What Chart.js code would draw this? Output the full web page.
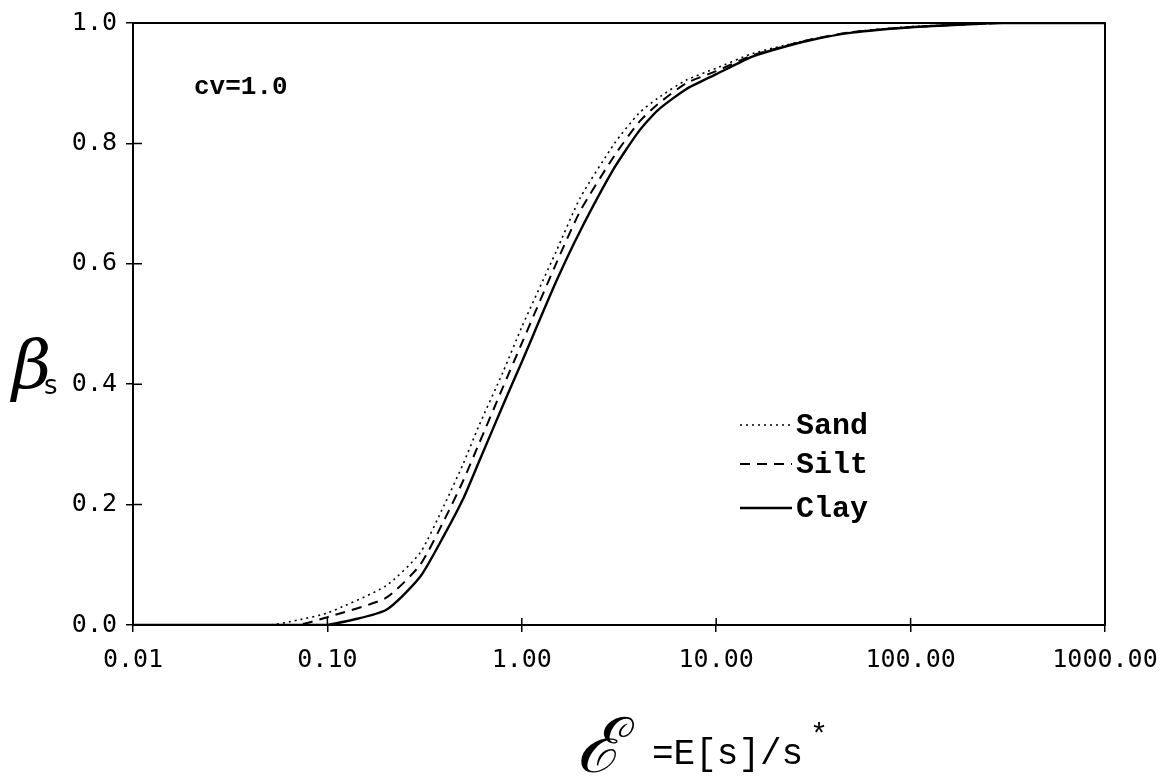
<!DOCTYPE html>
<html>
<head>
<meta charset="utf-8">
<script src="https://cdn.jsdelivr.net/npm/chart.js@4"></script>
<style>
  html, body { margin: 0; padding: 0; background: #fff; }
  #wrap { width: 1176px; height: 782px; }
</style>
</head>
<body>
<div id="wrap"><canvas id="betaChart" width="1176" height="782"></canvas></div>
<script>
// E[s]/s* values and the fraction beta_s for each soil type
const ratio = [0.01, 0.05, 0.07, 0.1, 0.2, 0.3, 0.4, 0.5, 0.6, 0.8, 1, 1.5, 2, 3, 4, 5, 7, 10, 15, 20, 30, 50, 100, 200, 300, 1000];
const sand  = [0, 0, 0.008, 0.02, 0.065, 0.12, 0.2, 0.268, 0.33, 0.42, 0.495, 0.62, 0.71, 0.80, 0.85, 0.875, 0.905, 0.925, 0.948, 0.959, 0.972, 0.985, 0.994, 0.998, 1, 1];
const silt  = [0, 0, 0, 0.013, 0.045, 0.10, 0.175, 0.24, 0.30, 0.395, 0.468, 0.60, 0.688, 0.78, 0.835, 0.865, 0.90, 0.92, 0.945, 0.957, 0.972, 0.985, 0.993, 0.998, 1, 1];
const clay  = [0, 0, 0, 0, 0.025, 0.08, 0.15, 0.21, 0.27, 0.365, 0.437, 0.57, 0.655, 0.76, 0.82, 0.855, 0.89, 0.915, 0.943, 0.956, 0.971, 0.984, 0.993, 0.998, 1, 1];
const xTicks = [0.01, 0.1, 1, 10, 100, 1000];
const xTickLabels = ["0.01", "0.10", "1.00", "10.00", "100.00", "1000.00"];
const yTicks = [0, 0.2, 0.4, 0.6, 0.8, 1.0];

const mono = '"Liberation Mono", monospace';
const numFont = '"DejaVu Sans Mono", monospace';
const serif = '"DejaVu Serif", serif';

function pts(ys) {
  return ratio.map((x, i) => ({ x: x, y: ys[i] }));
}

// frame, inner tick stubs, legend and axis titles
const decorations = {
  id: 'decorations',
  afterDraw(chart) {
    const ctx = chart.ctx;
    const a = chart.chartArea;
    const xs = chart.scales.x, ys = chart.scales.y;
    ctx.save();
    ctx.strokeStyle = '#000';
    ctx.lineWidth = 2;
    ctx.strokeRect(a.left, a.top, a.right - a.left, a.bottom - a.top);

    ctx.lineWidth = 1.5;
    ctx.beginPath();
    xTicks.forEach(v => {
      const px = xs.getPixelForValue(v);
      ctx.moveTo(px, a.bottom);
      ctx.lineTo(px, a.bottom - 7);
    });
    yTicks.forEach(v => {
      const py = ys.getPixelForValue(v);
      ctx.moveTo(a.left, py);
      ctx.lineTo(a.left + 9, py);
    });
    ctx.stroke();

    // legend inside the plot
    const lx = 740, lw = 52;
    const rows = [425, 464, 508];
    chart.data.datasets.forEach((ds, i) => {
      const y = rows[i];
      ctx.strokeStyle = '#000';
      ctx.lineWidth = ds.borderWidth;
      ctx.setLineDash(ds.borderDash || []);
      ctx.beginPath();
      ctx.moveTo(lx, y);
      ctx.lineTo(lx + lw, y);
      ctx.stroke();
      ctx.setLineDash([]);
      ctx.fillStyle = '#000';
      ctx.font = 'bold 30px ' + mono;
      ctx.textBaseline = 'middle';
      ctx.textAlign = 'left';
      ctx.fillText(ds.label, lx + lw + 4, y + 1);
    });

    // parameter note
    ctx.font = 'bold 26px ' + mono;
    ctx.fillText('cv=1.0', 194, 87);

    // y title: beta_s
    ctx.font = 'italic 68px ' + serif;
    ctx.textBaseline = 'alphabetic';
    ctx.fillText('\u03B2', 12, 388);
    ctx.font = '26px "DejaVu Sans", sans-serif';
    ctx.fillText('s', 44, 394);

    // x title
    ctx.font = 'italic 76px ' + serif;
    ctx.fillText('\u2130', 576, 772);
    ctx.font = '36px ' + mono;
    ctx.fillText('=E[s]/s', 652, 764);
    ctx.font = '30px ' + mono;
    ctx.fillText('*', 810, 744);
    ctx.restore();
  }
};

new Chart(document.getElementById('betaChart'), {
  type: 'line',
  data: {
    datasets: [
      { label: 'Sand', data: pts(sand), borderColor: '#000', borderWidth: 1.6, borderDash: [2, 4], pointRadius: 0, tension: 0.2, fill: false },
      { label: 'Silt', data: pts(silt), borderColor: '#000', borderWidth: 2, borderDash: [10, 7], pointRadius: 0, tension: 0.2, fill: false },
      { label: 'Clay', data: pts(clay), borderColor: '#000', borderWidth: 2.4, pointRadius: 0, tension: 0.2, fill: false }
    ]
  },
  options: {
    responsive: false,
    animation: false,
    layout: { padding: { left: 0, right: 71, top: 23, bottom: 0 } },
    plugins: {
      legend: { display: false },
      tooltip: { enabled: false }
    },
    scales: {
      x: {
        type: 'logarithmic',
        min: 0.01,
        max: 1000,
        afterBuildTicks: s => { s.ticks = xTicks.map(v => ({ value: v })); },
        afterFit: s => { s.height = 157; s.paddingLeft = 0; s.paddingRight = 0; },
        ticks: {
          autoSkip: false,
          maxRotation: 0,
          color: '#000',
          font: { family: numFont, size: 25 },
          padding: 13,
          callback: v => xTickLabels[xTicks.indexOf(v)] ?? ''
        },
        grid: { drawOnChartArea: false, tickLength: 7, color: '#000', lineWidth: 1.5 },
        border: { display: false }
      },
      y: {
        min: 0,
        max: 1,
        afterBuildTicks: s => { s.ticks = yTicks.map(v => ({ value: v })); },
        afterFit: s => { s.width = 133; s.paddingTop = 0; s.paddingBottom = 0; },
        ticks: {
          color: '#000',
          font: { family: numFont, size: 25 },
          padding: 9,
          callback: v => v.toFixed(1)
        },
        grid: { drawOnChartArea: false, tickLength: 7, color: '#000', lineWidth: 1.5 },
        border: { display: false }
      }
    }
  },
  plugins: [decorations]
});
</script>
</body>
</html>
